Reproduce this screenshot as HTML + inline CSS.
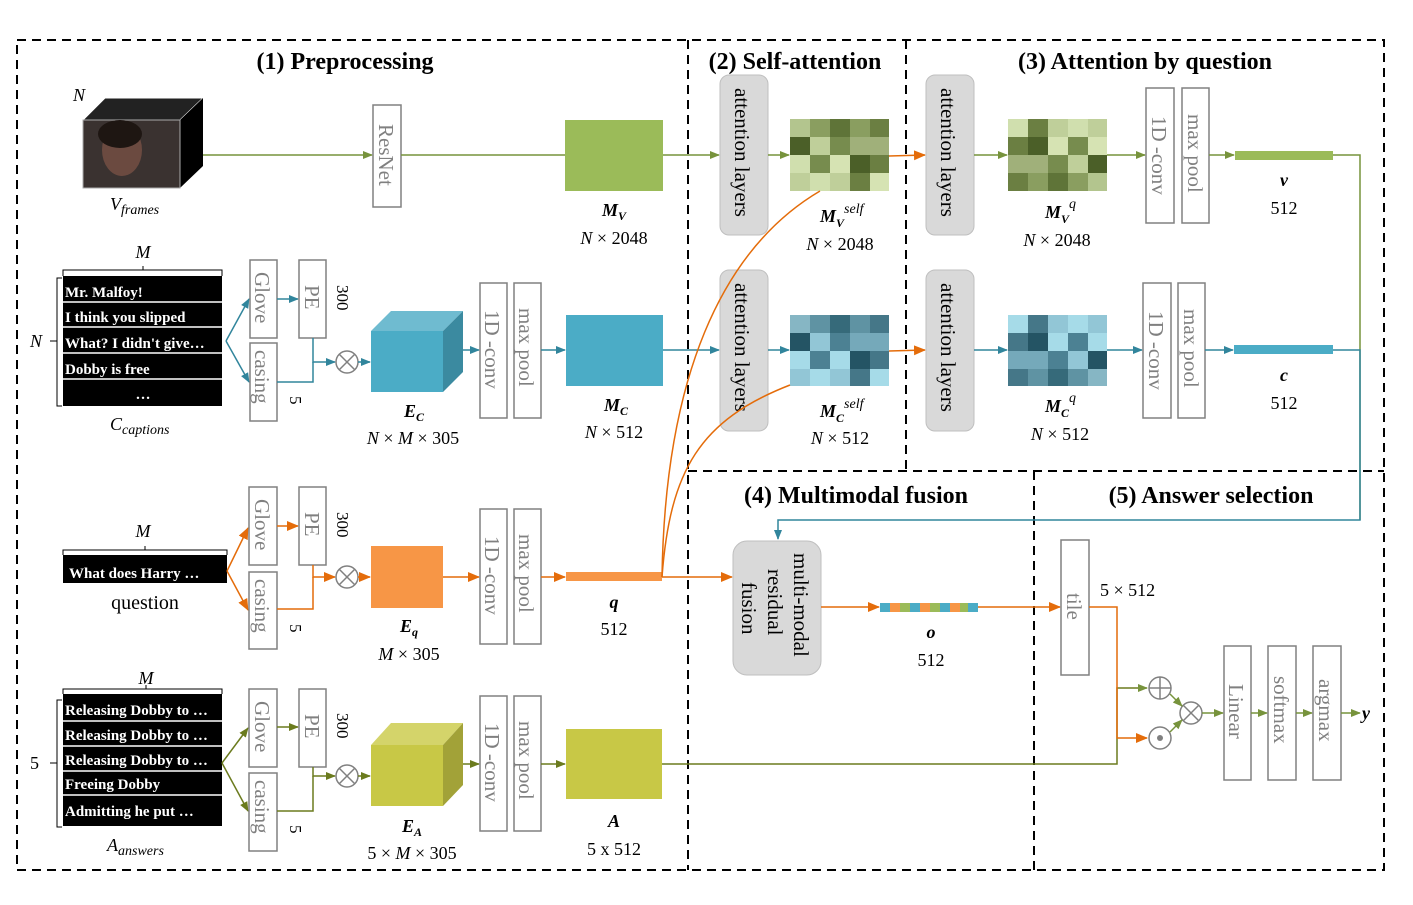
<!DOCTYPE html>
<html><head><meta charset="utf-8"><style>
body{margin:0;background:#fff}
svg{display:block;font-family:"Liberation Serif",serif}
.t{font-size:24px;font-weight:bold}
.v{font-size:21px;fill:#808080}
.bx{fill:#fff;stroke:#808080;stroke-width:1.5}
.al{fill:#d9d9d9;stroke:#bfbfbf}
.lab{font-size:18px}
.cap{font-size:15px;font-weight:bold;fill:#fff}
.dash{fill:none;stroke:#000;stroke-width:2;stroke-dasharray:9,6}
</style></head><body>
<svg width="1413" height="905" viewBox="0 0 1413 905" xmlns="http://www.w3.org/2000/svg">
<defs>
<marker id="ag" markerWidth="10" markerHeight="10" refX="9" refY="5" orient="auto" markerUnits="userSpaceOnUse"><path d="M0,1 L10,5 L0,9z" fill="#77933c"/></marker>
<marker id="at" markerWidth="10" markerHeight="10" refX="9" refY="5" orient="auto" markerUnits="userSpaceOnUse"><path d="M0,1 L10,5 L0,9z" fill="#31859c"/></marker>
<marker id="ao" markerWidth="12" markerHeight="12" refX="11" refY="6" orient="auto" markerUnits="userSpaceOnUse"><path d="M0,1 L12,6 L0,11z" fill="#e46c0a"/></marker>
<marker id="ay" markerWidth="10" markerHeight="10" refX="9" refY="5" orient="auto" markerUnits="userSpaceOnUse"><path d="M0,1 L10,5 L0,9z" fill="#6b7b1e"/></marker>
</defs>

<rect x="17" y="40" width="1367" height="830" class="dash"/>
<line x1="688" y1="40" x2="688" y2="870" class="dash"/>
<line x1="906" y1="40" x2="906" y2="471" class="dash"/>
<line x1="688" y1="471" x2="1384" y2="471" class="dash"/>
<line x1="1034" y1="471" x2="1034" y2="870" class="dash"/>

<text x="345" y="69" class="t" text-anchor="middle">(1) Preprocessing</text>
<text x="795" y="69" class="t" text-anchor="middle">(2) Self-attention</text>
<text x="1145" y="69" class="t" text-anchor="middle">(3) Attention by question</text>
<text x="856" y="503" class="t" text-anchor="middle">(4) Multimodal fusion</text>
<text x="1211" y="503" class="t" text-anchor="middle">(5) Answer selection</text>

<!-- Row 1 -->
<polygon points="83,120 105,98 203,98 180,120" fill="#222" stroke="#fff"/>
<polygon points="180,120 203,98 203,166 180,188" fill="#000"/>
<rect x="83" y="120" width="97" height="68" fill="#3a3230" stroke="#aaa"/>
<ellipse cx="122" cy="150" rx="20" ry="26" fill="#6b4a40"/>
<ellipse cx="120" cy="134" rx="22" ry="14" fill="#1e1612"/>
<text x="73" y="101" class="lab" font-style="italic">N</text>
<text x="110" y="210" class="lab" font-style="italic">V<tspan font-size="14" dy="4">frames</tspan></text>
<line x1="203" y1="155" x2="372" y2="155" stroke="#77933c" stroke-width="1.5" marker-end="url(#ag)"/>
<rect x="373" y="105" width="28" height="102" class="bx"/>
<text transform="translate(379,124) rotate(90)" class="v">ResNet</text>
<line x1="401" y1="155" x2="565" y2="155" stroke="#77933c" stroke-width="1.5"/>
<rect x="565" y="120" width="98" height="71" fill="#9bbb59"/>
<text x="614" y="216" class="lab" text-anchor="middle" font-weight="bold" font-style="italic">M<tspan font-size="12" dy="4">V</tspan></text>
<text x="614" y="244" class="lab" text-anchor="middle"><tspan font-style="italic">N</tspan> × 2048</text>
<line x1="663" y1="155" x2="719" y2="155" stroke="#77933c" stroke-width="1.5" marker-end="url(#ag)"/>
<rect x="720" y="75" width="48" height="160" rx="9" class="al"/>
<text transform="translate(735,88) rotate(90)" font-size="21">attention layers</text>
<line x1="768" y1="155" x2="789" y2="155" stroke="#77933c" stroke-width="1.5" marker-end="url(#ag)"/>
<g transform="translate(790,119)">
<rect width="99" height="72" fill="#9bbb59"/>
<rect x="0" y="0" width="20" height="18" fill="#b3c58e"/><rect x="20" y="0" width="20" height="18" fill="#8a9e60"/><rect x="40" y="0" width="20" height="18" fill="#5f7438"/><rect x="60" y="0" width="20" height="18" fill="#8a9e60"/><rect x="80" y="0" width="19" height="18" fill="#6b7f42"/>
<rect x="0" y="18" width="20" height="18" fill="#4b5f28"/><rect x="20" y="18" width="20" height="18" fill="#bfcf9a"/><rect x="40" y="18" width="20" height="18" fill="#778c4e"/><rect x="60" y="18" width="39" height="18" fill="#a0b07a"/>
<rect x="0" y="36" width="20" height="18" fill="#d0dfae"/><rect x="20" y="36" width="20" height="18" fill="#778c4e"/><rect x="40" y="36" width="20" height="18" fill="#d6e3b3"/><rect x="60" y="36" width="20" height="18" fill="#4b5f28"/><rect x="80" y="36" width="19" height="18" fill="#6b7f42"/>
<rect x="0" y="54" width="20" height="18" fill="#bfcf9a"/><rect x="20" y="54" width="20" height="18" fill="#d0dfae"/><rect x="40" y="54" width="20" height="18" fill="#bfcf9a"/><rect x="60" y="54" width="20" height="18" fill="#6b7f42"/><rect x="80" y="54" width="19" height="18" fill="#d6e3b3"/>
</g>
<text x="820" y="222" class="lab" font-weight="bold" font-style="italic">M<tspan font-size="12" dy="5">V</tspan><tspan font-size="14" dy="-14" font-weight="normal">self</tspan></text>
<text x="840" y="250" class="lab" text-anchor="middle"><tspan font-style="italic">N</tspan> × 2048</text>
<line x1="889" y1="156" x2="925" y2="155" stroke="#e46c0a" stroke-width="1.5" marker-end="url(#ao)"/>
<rect x="926" y="75" width="48" height="160" rx="9" class="al"/>
<text transform="translate(941,88) rotate(90)" font-size="21">attention layers</text>
<line x1="974" y1="155" x2="1007" y2="155" stroke="#77933c" stroke-width="1.5" marker-end="url(#ag)"/>
<g transform="translate(1008,119)">
<rect width="99" height="72" fill="#9bbb59"/>
<rect x="0" y="0" width="20" height="18" fill="#d0dfae"/><rect x="20" y="0" width="20" height="18" fill="#6b7f42"/><rect x="40" y="0" width="20" height="18" fill="#bfcf9a"/><rect x="60" y="0" width="20" height="18" fill="#d0dfae"/><rect x="80" y="0" width="19" height="18" fill="#bfcf9a"/>
<rect x="0" y="18" width="20" height="18" fill="#6b7f42"/><rect x="20" y="18" width="20" height="18" fill="#4b5f28"/><rect x="40" y="18" width="20" height="18" fill="#d6e3b3"/><rect x="60" y="18" width="20" height="18" fill="#778c4e"/><rect x="80" y="18" width="19" height="18" fill="#d6e3b3"/>
<rect x="0" y="36" width="40" height="18" fill="#a0b07a"/><rect x="40" y="36" width="20" height="18" fill="#778c4e"/><rect x="60" y="36" width="20" height="18" fill="#bfcf9a"/><rect x="80" y="36" width="19" height="18" fill="#4b5f28"/>
<rect x="0" y="54" width="20" height="18" fill="#6b7f42"/><rect x="20" y="54" width="20" height="18" fill="#8a9e60"/><rect x="40" y="54" width="20" height="18" fill="#5f7438"/><rect x="60" y="54" width="20" height="18" fill="#8a9e60"/><rect x="80" y="54" width="19" height="18" fill="#b3c58e"/>
</g>
<text x="1045" y="218" class="lab" font-weight="bold" font-style="italic">M<tspan font-size="12" dy="5">V</tspan><tspan font-size="14" dy="-15" font-weight="normal">q</tspan></text>
<text x="1057" y="246" class="lab" text-anchor="middle"><tspan font-style="italic">N</tspan> × 2048</text>
<line x1="1107" y1="155" x2="1145" y2="155" stroke="#77933c" stroke-width="1.5" marker-end="url(#ag)"/>
<rect x="1146" y="88" width="28" height="135" class="bx"/>
<text transform="translate(1152,116) rotate(90)" class="v">1D -conv</text>
<rect x="1182" y="88" width="27" height="135" class="bx"/>
<text transform="translate(1188,114) rotate(90)" class="v">max pool</text>
<line x1="1209" y1="155" x2="1234" y2="155" stroke="#77933c" stroke-width="1.5" marker-end="url(#ag)"/>
<rect x="1235" y="151" width="98" height="9" fill="#9bbb59"/>
<text x="1284" y="186" class="lab" text-anchor="middle" font-weight="bold" font-style="italic">v</text>
<text x="1284" y="214" class="lab" text-anchor="middle">512</text>
<polyline points="1333,155 1360,155 1360,520" fill="none" stroke="#77933c" stroke-width="1.5"/>

<!-- Row 2 -->
<text x="143" y="258" class="lab" text-anchor="middle" font-style="italic">M</text>
<path d="M63,276 V270 H222 V276 M143,270 V266" fill="none" stroke="#000"/>
<text x="30" y="347" class="lab" font-style="italic">N</text>
<path d="M62,278 H57 V406 H62 M57,341 H50" fill="none" stroke="#000"/>
<rect x="63" y="276" width="159" height="130" fill="#000"/>
<g stroke="#fff" stroke-width="1.5"><line x1="63" y1="302" x2="222" y2="302"/><line x1="63" y1="327" x2="222" y2="327"/><line x1="63" y1="353" x2="222" y2="353"/><line x1="63" y1="379" x2="222" y2="379"/></g>
<text x="65" y="297" class="cap">Mr. Malfoy!</text>
<text x="65" y="322" class="cap">I think you slipped</text>
<text x="65" y="348" class="cap">What? I didn't give…</text>
<text x="65" y="374" class="cap">Dobby is free</text>
<text x="143" y="399" class="cap" text-anchor="middle">…</text>
<text x="110" y="430" class="lab" font-style="italic">C<tspan font-size="14" dy="4">captions</tspan></text>
<polyline points="226,341 249,299" fill="none" stroke="#31859c" stroke-width="1.5" marker-end="url(#at)"/>
<polyline points="226,341 249,382" fill="none" stroke="#31859c" stroke-width="1.5" marker-end="url(#at)"/>
<rect x="250" y="260" width="27" height="78" class="bx"/>
<text transform="translate(255,272) rotate(90)" class="v">Glove</text>
<rect x="250" y="343" width="27" height="78" class="bx"/>
<text transform="translate(255,350) rotate(90)" class="v">casing</text>
<line x1="277" y1="299" x2="298" y2="299" stroke="#31859c" stroke-width="1.5" marker-end="url(#at)"/>
<rect x="299" y="260" width="27" height="78" class="bx"/>
<text transform="translate(305,285) rotate(90)" class="v">PE</text>
<text transform="translate(337,285) rotate(90)" font-size="17">300</text>
<text transform="translate(290,396) rotate(90)" font-size="17">5</text>
<polyline points="313,338 313,362 335,362" fill="none" stroke="#31859c" stroke-width="1.5" marker-end="url(#at)"/>
<polyline points="277,382 313,382 313,362" fill="none" stroke="#31859c" stroke-width="1.5"/>
<g stroke="#808080" stroke-width="1.5" fill="#fff"><circle cx="347" cy="362" r="11"/><line x1="339" y1="354" x2="355" y2="370"/><line x1="355" y1="354" x2="339" y2="370"/></g>
<line x1="358" y1="362" x2="370" y2="362" stroke="#31859c" stroke-width="1.5" marker-end="url(#at)"/>
<polygon points="371,331 391,311 463,311 443,331" fill="#6fbbd0"/>
<polygon points="443,331 463,311 463,372 443,392" fill="#3b8aa0"/>
<rect x="371" y="331" width="72" height="61" fill="#4bacc6"/>
<line x1="463" y1="350" x2="479" y2="350" stroke="#31859c" stroke-width="1.5" marker-end="url(#at)"/>
<text x="404" y="417" class="lab" font-weight="bold" font-style="italic">E<tspan font-size="12" dy="4">C</tspan></text>
<text x="413" y="444" class="lab" text-anchor="middle"><tspan font-style="italic">N</tspan> × <tspan font-style="italic">M</tspan> × 305</text>
<rect x="480" y="283" width="27" height="135" class="bx"/>
<text transform="translate(485,310) rotate(90)" class="v">1D -conv</text>
<rect x="514" y="283" width="27" height="135" class="bx"/>
<text transform="translate(519,308) rotate(90)" class="v">max pool</text>
<line x1="541" y1="350" x2="565" y2="350" stroke="#31859c" stroke-width="1.5" marker-end="url(#at)"/>
<rect x="566" y="315" width="97" height="71" fill="#4bacc6"/>
<text x="604" y="411" class="lab" font-weight="bold" font-style="italic">M<tspan font-size="12" dy="4">C</tspan></text>
<text x="614" y="438" class="lab" text-anchor="middle"><tspan font-style="italic">N</tspan> × 512</text>
<line x1="663" y1="350" x2="719" y2="350" stroke="#31859c" stroke-width="1.5" marker-end="url(#at)"/>
<rect x="720" y="270" width="48" height="161" rx="9" class="al"/>
<text transform="translate(735,283) rotate(90)" font-size="21">attention layers</text>
<line x1="768" y1="350" x2="789" y2="350" stroke="#31859c" stroke-width="1.5" marker-end="url(#at)"/>
<g transform="translate(790,315)">
<rect width="99" height="71" fill="#4bacc6"/>
<rect x="0" y="0" width="20" height="18" fill="#86b6c4"/><rect x="20" y="0" width="20" height="18" fill="#5f93a3"/><rect x="40" y="0" width="20" height="18" fill="#366a7a"/><rect x="60" y="0" width="20" height="18" fill="#5f93a3"/><rect x="80" y="0" width="19" height="18" fill="#457788"/>
<rect x="0" y="18" width="20" height="18" fill="#245464"/><rect x="20" y="18" width="20" height="18" fill="#92c6d6"/><rect x="40" y="18" width="20" height="18" fill="#4c8193"/><rect x="60" y="18" width="39" height="18" fill="#75a9ba"/>
<rect x="0" y="36" width="20" height="18" fill="#a6dbe8"/><rect x="20" y="36" width="20" height="18" fill="#4c8193"/><rect x="40" y="36" width="20" height="18" fill="#a6dbe8"/><rect x="60" y="36" width="20" height="18" fill="#245464"/><rect x="80" y="36" width="19" height="18" fill="#457788"/>
<rect x="0" y="54" width="20" height="17" fill="#92c6d6"/><rect x="20" y="54" width="20" height="17" fill="#a6dbe8"/><rect x="40" y="54" width="20" height="17" fill="#92c6d6"/><rect x="60" y="54" width="20" height="17" fill="#457788"/><rect x="80" y="54" width="19" height="17" fill="#a6dbe8"/>
</g>
<text x="820" y="417" class="lab" font-weight="bold" font-style="italic">M<tspan font-size="12" dy="5">C</tspan><tspan font-size="14" dy="-14" font-weight="normal">self</tspan></text>
<text x="840" y="444" class="lab" text-anchor="middle"><tspan font-style="italic">N</tspan> × 512</text>
<line x1="889" y1="351" x2="925" y2="350" stroke="#e46c0a" stroke-width="1.5" marker-end="url(#ao)"/>
<rect x="926" y="270" width="48" height="161" rx="9" class="al"/>
<text transform="translate(941,283) rotate(90)" font-size="21">attention layers</text>
<line x1="974" y1="350" x2="1007" y2="350" stroke="#31859c" stroke-width="1.5" marker-end="url(#at)"/>
<g transform="translate(1008,315)">
<rect width="99" height="71" fill="#4bacc6"/>
<rect x="0" y="0" width="20" height="18" fill="#a6dbe8"/><rect x="20" y="0" width="20" height="18" fill="#457788"/><rect x="40" y="0" width="20" height="18" fill="#92c6d6"/><rect x="60" y="0" width="20" height="18" fill="#a6dbe8"/><rect x="80" y="0" width="19" height="18" fill="#92c6d6"/>
<rect x="0" y="18" width="20" height="18" fill="#457788"/><rect x="20" y="18" width="20" height="18" fill="#245464"/><rect x="40" y="18" width="20" height="18" fill="#a6dbe8"/><rect x="60" y="18" width="20" height="18" fill="#4c8193"/><rect x="80" y="18" width="19" height="18" fill="#a6dbe8"/>
<rect x="0" y="36" width="40" height="18" fill="#75a9ba"/><rect x="40" y="36" width="20" height="18" fill="#4c8193"/><rect x="60" y="36" width="20" height="18" fill="#92c6d6"/><rect x="80" y="36" width="19" height="18" fill="#245464"/>
<rect x="0" y="54" width="20" height="17" fill="#457788"/><rect x="20" y="54" width="20" height="17" fill="#5f93a3"/><rect x="40" y="54" width="20" height="17" fill="#366a7a"/><rect x="60" y="54" width="20" height="17" fill="#5f93a3"/><rect x="80" y="54" width="19" height="17" fill="#86b6c4"/>
</g>
<text x="1045" y="412" class="lab" font-weight="bold" font-style="italic">M<tspan font-size="12" dy="5">C</tspan><tspan font-size="14" dy="-15" font-weight="normal">q</tspan></text>
<text x="1060" y="440" class="lab" text-anchor="middle"><tspan font-style="italic">N</tspan> × 512</text>
<line x1="1107" y1="350" x2="1142" y2="350" stroke="#31859c" stroke-width="1.5" marker-end="url(#at)"/>
<rect x="1143" y="283" width="28" height="135" class="bx"/>
<text transform="translate(1149,311) rotate(90)" class="v">1D -conv</text>
<rect x="1178" y="283" width="27" height="135" class="bx"/>
<text transform="translate(1184,309) rotate(90)" class="v">max pool</text>
<line x1="1205" y1="350" x2="1233" y2="350" stroke="#31859c" stroke-width="1.5" marker-end="url(#at)"/>
<rect x="1234" y="345" width="99" height="9" fill="#4bacc6"/>
<text x="1284" y="381" class="lab" text-anchor="middle" font-weight="bold" font-style="italic">c</text>
<text x="1284" y="409" class="lab" text-anchor="middle">512</text>
<polyline points="1333,350 1360,350 1360,520 778,520 778,539" fill="none" stroke="#31859c" stroke-width="1.5" marker-end="url(#at)"/>

<!-- Row 3 -->
<text x="143" y="537" class="lab" text-anchor="middle" font-style="italic">M</text>
<path d="M63,555 V550 H227 V555 M145,550 V546" fill="none" stroke="#000"/>
<rect x="63" y="555" width="164" height="28" fill="#000"/>
<text x="69" y="578" class="cap">What does Harry …</text>
<text x="145" y="609" font-size="20" text-anchor="middle">question</text>
<polyline points="227,571 248,528" fill="none" stroke="#e46c0a" stroke-width="1.5" marker-end="url(#ao)"/>
<polyline points="227,571 248,610" fill="none" stroke="#e46c0a" stroke-width="1.5" marker-end="url(#ao)"/>
<rect x="249" y="487" width="28" height="78" class="bx"/>
<text transform="translate(255,499) rotate(90)" class="v">Glove</text>
<rect x="249" y="572" width="28" height="77" class="bx"/>
<text transform="translate(255,579) rotate(90)" class="v">casing</text>
<line x1="277" y1="526" x2="298" y2="526" stroke="#e46c0a" stroke-width="1.5" marker-end="url(#ao)"/>
<rect x="299" y="487" width="27" height="78" class="bx"/>
<text transform="translate(305,512) rotate(90)" class="v">PE</text>
<text transform="translate(337,512) rotate(90)" font-size="17">300</text>
<text transform="translate(290,624) rotate(90)" font-size="17">5</text>
<polyline points="313,565 313,577 335,577" fill="none" stroke="#e46c0a" stroke-width="1.5" marker-end="url(#ao)"/>
<polyline points="277,609 313,609 313,577" fill="none" stroke="#e46c0a" stroke-width="1.5"/>
<g stroke="#808080" stroke-width="1.5" fill="#fff"><circle cx="347" cy="577" r="11"/><line x1="339" y1="569" x2="355" y2="585"/><line x1="355" y1="569" x2="339" y2="585"/></g>
<line x1="358" y1="577" x2="370" y2="577" stroke="#e46c0a" stroke-width="1.5" marker-end="url(#ao)"/>
<rect x="371" y="546" width="72" height="62" fill="#f79646"/>
<line x1="443" y1="577" x2="479" y2="577" stroke="#e46c0a" stroke-width="1.5" marker-end="url(#ao)"/>
<text x="400" y="632" class="lab" font-weight="bold" font-style="italic">E<tspan font-size="12" dy="4">q</tspan></text>
<text x="409" y="660" class="lab" text-anchor="middle"><tspan font-style="italic">M</tspan> × 305</text>
<rect x="480" y="509" width="27" height="135" class="bx"/>
<text transform="translate(485,536) rotate(90)" class="v">1D -conv</text>
<rect x="514" y="509" width="27" height="135" class="bx"/>
<text transform="translate(519,534) rotate(90)" class="v">max pool</text>
<line x1="541" y1="577" x2="565" y2="577" stroke="#e46c0a" stroke-width="1.5" marker-end="url(#ao)"/>
<rect x="566" y="572" width="96" height="9" fill="#f79646"/>
<text x="614" y="608" class="lab" text-anchor="middle" font-weight="bold" font-style="italic">q</text>
<text x="614" y="635" class="lab" text-anchor="middle">512</text>
<line x1="662" y1="577" x2="732" y2="577" stroke="#e46c0a" stroke-width="1.5" marker-end="url(#ao)"/>
<path d="M662,577 C665,380 720,250 820,191" fill="none" stroke="#e46c0a" stroke-width="1.5"/>
<path d="M662,577 C670,470 700,420 790,385" fill="none" stroke="#e46c0a" stroke-width="1.5"/>
<rect x="733" y="541" width="88" height="134" rx="14" class="al"/>
<text transform="translate(794,553) rotate(90)" font-size="21">multi-modal</text>
<text transform="translate(768,569) rotate(90)" font-size="21">residual</text>
<text transform="translate(742,582) rotate(90)" font-size="21">fusion</text>
<line x1="821" y1="607" x2="879" y2="607" stroke="#e46c0a" stroke-width="1.5" marker-end="url(#ao)"/>
<g transform="translate(880,603)">
<rect x="0" width="10" height="9" fill="#4bacc6"/><rect x="10" width="10" height="9" fill="#f79646"/><rect x="20" width="10" height="9" fill="#9bbb59"/><rect x="30" width="10" height="9" fill="#4bacc6"/><rect x="40" width="10" height="9" fill="#f79646"/><rect x="50" width="10" height="9" fill="#9bbb59"/><rect x="60" width="10" height="9" fill="#4bacc6"/><rect x="70" width="10" height="9" fill="#f79646"/><rect x="80" width="8" height="9" fill="#9bbb59"/><rect x="88" width="10" height="9" fill="#4bacc6"/>
</g>
<text x="931" y="638" class="lab" text-anchor="middle" font-weight="bold" font-style="italic">o</text>
<text x="931" y="666" class="lab" text-anchor="middle">512</text>
<line x1="978" y1="607" x2="1060" y2="607" stroke="#e46c0a" stroke-width="1.5" marker-end="url(#ao)"/>

<!-- Row 4 -->
<text x="146" y="684" class="lab" text-anchor="middle" font-style="italic">M</text>
<path d="M63,694 V689 H222 V694 M146,689 V685" fill="none" stroke="#000"/>
<text x="30" y="769" class="lab">5</text>
<path d="M62,700 H57 V827 H62 M57,763 H50" fill="none" stroke="#000"/>
<rect x="63" y="694" width="159" height="132" fill="#000"/>
<g stroke="#fff" stroke-width="1.5"><line x1="63" y1="721" x2="222" y2="721"/><line x1="63" y1="746" x2="222" y2="746"/><line x1="63" y1="771" x2="222" y2="771"/><line x1="63" y1="795" x2="222" y2="795"/></g>
<text x="65" y="715" class="cap">Releasing Dobby to …</text>
<text x="65" y="740" class="cap">Releasing Dobby to …</text>
<text x="65" y="765" class="cap">Releasing Dobby to …</text>
<text x="65" y="789" class="cap">Freeing Dobby</text>
<text x="65" y="816" class="cap">Admitting he put …</text>
<text x="107" y="851" class="lab" font-style="italic">A<tspan font-size="14" dy="4">answers</tspan></text>
<polyline points="222,763 248,728" fill="none" stroke="#6b7b1e" stroke-width="1.5" marker-end="url(#ay)"/>
<polyline points="222,763 248,811" fill="none" stroke="#6b7b1e" stroke-width="1.5" marker-end="url(#ay)"/>
<rect x="249" y="689" width="28" height="78" class="bx"/>
<text transform="translate(255,701) rotate(90)" class="v">Glove</text>
<rect x="249" y="773" width="28" height="78" class="bx"/>
<text transform="translate(255,780) rotate(90)" class="v">casing</text>
<line x1="277" y1="727" x2="298" y2="727" stroke="#6b7b1e" stroke-width="1.5" marker-end="url(#ay)"/>
<rect x="299" y="689" width="27" height="78" class="bx"/>
<text transform="translate(305,714) rotate(90)" class="v">PE</text>
<text transform="translate(337,713) rotate(90)" font-size="17">300</text>
<text transform="translate(290,825) rotate(90)" font-size="17">5</text>
<polyline points="313,767 313,776 335,776" fill="none" stroke="#6b7b1e" stroke-width="1.5" marker-end="url(#ay)"/>
<polyline points="277,811 313,811 313,776" fill="none" stroke="#6b7b1e" stroke-width="1.5"/>
<g stroke="#808080" stroke-width="1.5" fill="#fff"><circle cx="347" cy="776" r="11"/><line x1="339" y1="768" x2="355" y2="784"/><line x1="355" y1="768" x2="339" y2="784"/></g>
<line x1="358" y1="776" x2="370" y2="776" stroke="#6b7b1e" stroke-width="1.5" marker-end="url(#ay)"/>
<polygon points="371,745 391,723 463,723 443,745" fill="#d4d46a"/>
<polygon points="443,745 463,723 463,785 443,806" fill="#a2a238"/>
<rect x="371" y="745" width="72" height="61" fill="#c8c846"/>
<line x1="463" y1="764" x2="479" y2="764" stroke="#6b7b1e" stroke-width="1.5" marker-end="url(#ay)"/>
<text x="402" y="832" class="lab" font-weight="bold" font-style="italic">E<tspan font-size="12" dy="4">A</tspan></text>
<text x="412" y="859" class="lab" text-anchor="middle">5 × <tspan font-style="italic">M</tspan> × 305</text>
<rect x="480" y="696" width="27" height="135" class="bx"/>
<text transform="translate(485,723) rotate(90)" class="v">1D -conv</text>
<rect x="514" y="696" width="27" height="135" class="bx"/>
<text transform="translate(519,721) rotate(90)" class="v">max pool</text>
<line x1="541" y1="764" x2="565" y2="764" stroke="#6b7b1e" stroke-width="1.5" marker-end="url(#ay)"/>
<rect x="566" y="729" width="96" height="70" fill="#c8c846"/>
<text x="614" y="827" class="lab" text-anchor="middle" font-weight="bold" font-style="italic">A</text>
<text x="614" y="855" class="lab" text-anchor="middle">5 x 512</text>

<!-- Answer selection -->
<rect x="1061" y="540" width="28" height="135" class="bx"/>
<text transform="translate(1067,593) rotate(90)" class="v">tile</text>
<text x="1100" y="596" font-size="18">5 × 512</text>
<polyline points="662,764 1117,764 1117,688 1147,688" fill="none" stroke="#6b7b1e" stroke-width="1.5" marker-end="url(#ag)"/>
<polyline points="1089,607 1117,607 1117,738 1147,738" fill="none" stroke="#e46c0a" stroke-width="1.5" marker-end="url(#ao)"/>
<g stroke="#808080" stroke-width="1.5" fill="#fff">
<circle cx="1160" cy="688" r="11"/><line x1="1149" y1="688" x2="1171" y2="688"/><line x1="1160" y1="677" x2="1160" y2="699"/>
<circle cx="1160" cy="738" r="11"/>
<circle cx="1191" cy="713" r="11"/><line x1="1183" y1="705" x2="1199" y2="721"/><line x1="1199" y1="705" x2="1183" y2="721"/>
</g>
<circle cx="1160" cy="738" r="3" fill="#808080"/>
<line x1="1170" y1="694" x2="1182" y2="706" stroke="#77933c" stroke-width="1.5" marker-end="url(#ag)"/>
<line x1="1170" y1="732" x2="1182" y2="720" stroke="#77933c" stroke-width="1.5" marker-end="url(#ag)"/>
<line x1="1202" y1="713" x2="1223" y2="713" stroke="#77933c" stroke-width="1.5" marker-end="url(#ag)"/>
<rect x="1224" y="646" width="27" height="134" class="bx"/>
<text transform="translate(1229,684) rotate(90)" class="v">Linear</text>
<line x1="1251" y1="713" x2="1267" y2="713" stroke="#77933c" stroke-width="1.5" marker-end="url(#ag)"/>
<rect x="1268" y="646" width="28" height="134" class="bx"/>
<text transform="translate(1274,676) rotate(90)" class="v">softmax</text>
<line x1="1296" y1="713" x2="1312" y2="713" stroke="#77933c" stroke-width="1.5" marker-end="url(#ag)"/>
<rect x="1313" y="646" width="28" height="134" class="bx"/>
<text transform="translate(1319,679) rotate(90)" class="v">argmax</text>
<line x1="1341" y1="713" x2="1360" y2="713" stroke="#77933c" stroke-width="1.5" marker-end="url(#ag)"/>
<text x="1362" y="719" class="lab" font-weight="bold" font-style="italic">y</text>
</svg>
</body></html>
